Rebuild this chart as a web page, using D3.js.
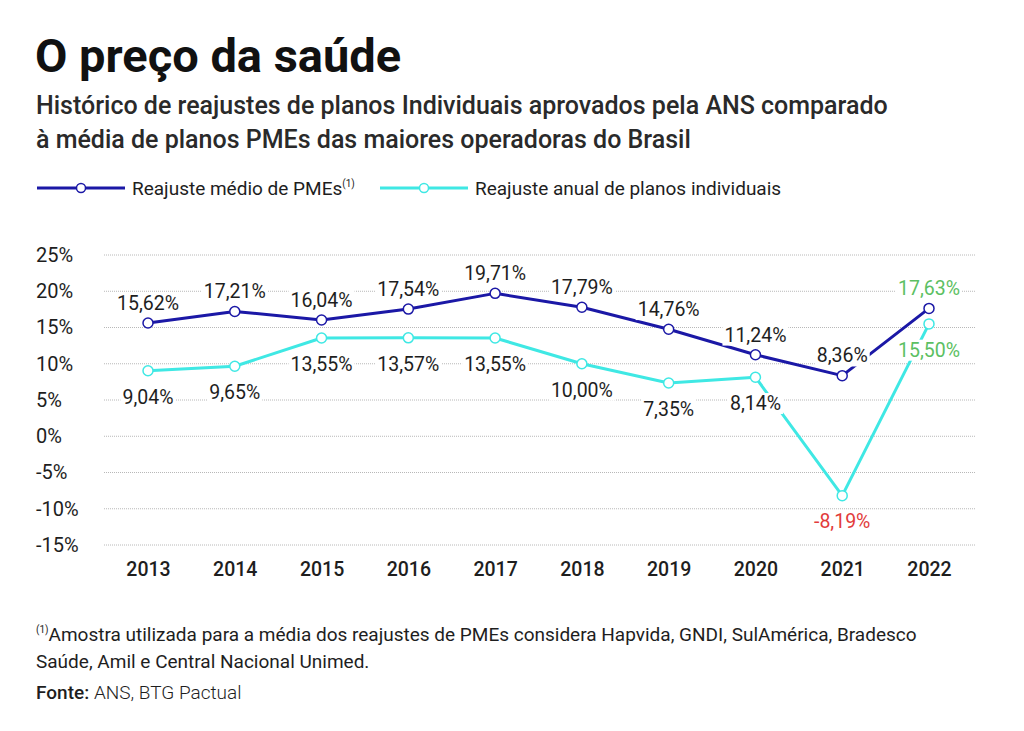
<!DOCTYPE html>
<html>
<head>
<meta charset="utf-8">
<script src="https://cdn.jsdelivr.net/npm/d3@7/dist/d3.min.js"></script>
<style>
  body { margin: 0; background: #fff; }
  svg { display: block; font-family: Roboto, "Noto Sans", sans-serif; }
</style>
</head>
<body>
<div class="js-canvas"></div>
<script>
'use strict';

// data
const years = ['2013', '2014', '2015', '2016', '2017', '2018', '2019', '2020', '2021', '2022'];
const pmeValues = [15.62, 17.21, 16.04, 17.54, 19.71, 17.79, 14.76, 11.24, 8.36, 17.63];
const individualValues = [9.04, 9.65, 13.55, 13.57, 13.55, 10.00, 7.35, 8.14, -8.19, 15.50];
const yTicks = [25, 20, 15, 10, 5, 0, -5, -10, -15];
const seriesNames = ['Reajuste médio de PMEs', 'Reajuste anual de planos individuais'];

const config = {
    width: 1024,
    height: 731,
    plot: { left: 104, right: 975, top: 255, bottom: 545 },
    colors: { pme: '#1b18a6', ind: '#3fe8e4', text: '#1e1e1e', grid: '#b8b8b8', green: '#5cbf63', red: '#e23b3b' }
};

const fmt = v => v.toFixed(2).replace('.', ',') + '%';

const svg = d3.select('.js-canvas')
    .append('svg')
    .attr('width', config.width)
    .attr('height', config.height);

// title and subtitle
svg.append('text')
    .attr('x', 35).attr('y', 72)
    .attr('font-size', 47).attr('font-weight', 700)
    .attr('fill', '#111')
    .text('O preço da saúde');

const sub = svg.append('text')
    .attr('font-size', 25).attr('font-weight', 500)
    .attr('fill', '#2a2a2a');
sub.append('tspan').attr('x', 36).attr('y', 114)
    .text('Histórico de reajustes de planos Individuais aprovados pela ANS comparado');
sub.append('tspan').attr('x', 36).attr('y', 148)
    .text('à média de planos PMEs das maiores operadoras do Brasil');

// legend
const legend = svg.append('g').attr('transform', 'translate(0, 188)');
const legendItems = [
    { x: 37, color: config.colors.pme, name: seriesNames[0], sup: true },
    { x: 380, color: config.colors.ind, name: seriesNames[1], sup: false }
];
legendItems.forEach(item => {
    legend.append('line')
        .attr('x1', item.x).attr('x2', item.x + 88)
        .attr('stroke', item.color).attr('stroke-width', 3);
    legend.append('circle')
        .attr('cx', item.x + 44).attr('r', 4.5)
        .attr('fill', '#fff').attr('stroke', item.color).attr('stroke-width', 1.5);
    const t = legend.append('text')
        .attr('x', item.x + 95).attr('y', 7)
        .attr('font-size', 19).attr('fill', config.colors.text)
        .text(item.name);
    if (item.sup) {
        t.append('tspan').attr('font-size', 10).attr('dy', -8).text('(1)');
    }
});

// scales
const x = d3.scalePoint()
    .domain(years)
    .range([148, 929]);

const y = d3.scaleLinear()
    .domain([-15, 25])
    .range([config.plot.bottom, config.plot.top]);

// gridlines
svg.append('g')
    .selectAll('line')
    .data(yTicks)
    .join('line')
    .attr('x1', config.plot.left).attr('x2', config.plot.right)
    .attr('y1', d => y(d)).attr('y2', d => y(d))
    .attr('stroke', config.colors.grid)
    .attr('stroke-width', 1)
    .attr('stroke-dasharray', '1,1');

// y axis labels
const yAxis = d3.axisLeft(y)
    .tickValues(yTicks)
    .tickSize(0)
    .tickFormat(d => d + '%');
const yAxisGroup = svg.append('g').call(yAxis);
yAxisGroup.select('.domain').remove();
yAxisGroup.selectAll('text')
    .attr('x', 36)
    .attr('text-anchor', 'start')
    .attr('font-family', 'Roboto, sans-serif')
    .attr('font-size', 20)
    .attr('fill', config.colors.text);

// x axis labels
const xAxis = d3.axisBottom(x).tickSize(0);
const xAxisGroup = svg.append('g')
    .attr('transform', 'translate(0, 559)')
    .call(xAxis);
xAxisGroup.select('.domain').remove();
xAxisGroup.selectAll('text')
    .attr('font-family', 'Roboto, sans-serif')
    .attr('font-size', 19.5)
    .attr('font-weight', 500)
    .attr('fill', config.colors.text);

// series
const series = [
    { key: 'pme', values: pmeValues, color: config.colors.pme, dy: -20 },
    { key: 'ind', values: individualValues, color: config.colors.ind, dy: 26 }
];

const line = d3.line()
    .x((d, i) => x(years[i]))
    .y(d => y(d));

series.forEach(s => {
    svg.append('path')
        .datum(s.values)
        .attr('fill', 'none')
        .attr('stroke', s.color)
        .attr('stroke-width', 3)
        .attr('stroke-linejoin', 'round')
        .attr('d', line);
});

// data labels on white boxes
const labelLayer = svg.append('g');
series.forEach(s => {
    s.values.forEach((v, i) => {
        let color = config.colors.text;
        if (i === years.length - 1) color = config.colors.green;
        else if (v < 0) color = config.colors.red;
        const g = labelLayer.append('g');
        const t = g.append('text')
            .attr('x', x(years[i]))
            .attr('y', y(v) + s.dy)
            .attr('dy', '0.35em')
            .attr('text-anchor', 'middle')
            .attr('font-size', 19.5)
            .attr('fill', color)
            .text(fmt(v));
        const b = t.node().getBBox();
        g.insert('rect', 'text')
            .attr('x', b.x - 2).attr('y', b.y + 1)
            .attr('width', b.width + 4).attr('height', b.height - 2)
            .attr('fill', '#fff');
    });
});

// markers
series.forEach(s => {
    svg.append('g')
        .selectAll('circle')
        .data(s.values)
        .join('circle')
        .attr('cx', (d, i) => x(years[i]))
        .attr('cy', d => y(d))
        .attr('r', 5)
        .attr('fill', '#fff')
        .attr('stroke', s.color)
        .attr('stroke-width', 1.5);
});

// footnote and source
const note = svg.append('text')
    .attr('font-size', 19).attr('fill', config.colors.text);
note.append('tspan').attr('x', 36).attr('y', 641)
    .attr('font-size', 10).attr('dy', -8).text('(1)');
note.append('tspan').attr('dy', 8)
    .text('Amostra utilizada para a média dos reajustes de PMEs considera Hapvida, GNDI, SulAmérica, Bradesco');
note.append('tspan').attr('x', 36).attr('y', 668)
    .text('Saúde, Amil e Central Nacional Unimed.');

const src = svg.append('text')
    .attr('x', 36).attr('y', 699)
    .attr('font-size', 19).attr('fill', config.colors.text);
src.append('tspan').attr('font-weight', 500).text('Fonte: ');
src.append('tspan').attr('font-weight', 300).text('ANS, BTG Pactual');
</script>
</body>
</html>
